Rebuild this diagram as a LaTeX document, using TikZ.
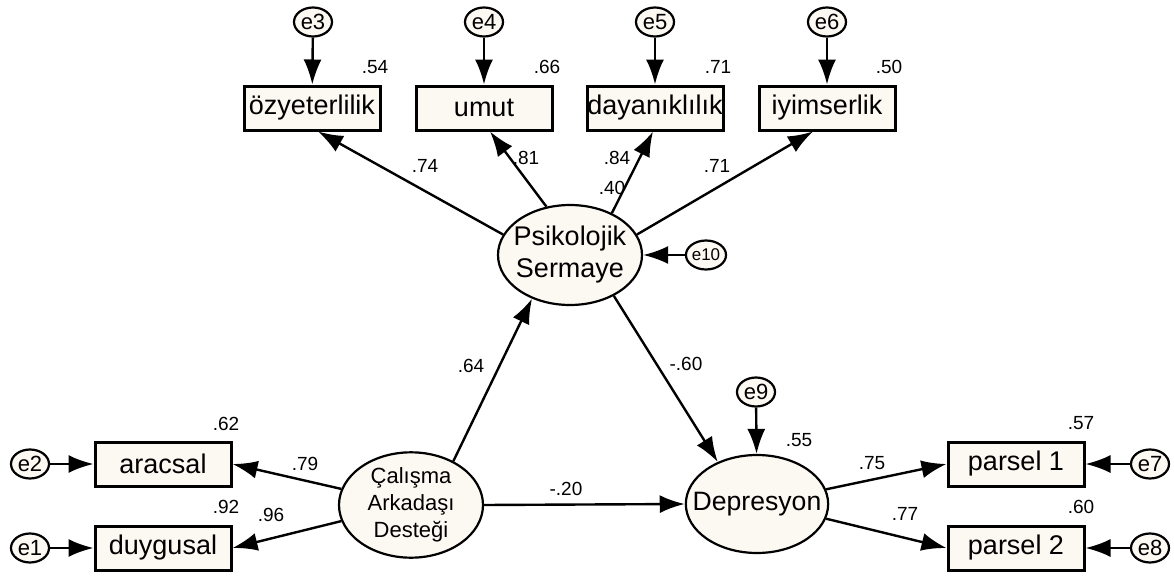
\documentclass[tikz,border=0pt]{standalone}
\usepackage{fontspec}
\setmainfont{Liberation Sans}
\usetikzlibrary{positioning,arrows.meta,shapes.geometric}
\definecolor{cream}{HTML}{FCF8F2}
\tikzset{obs/.style={draw,line width=1.5pt,fill=cream,
    minimum width=68pt,minimum height=22pt,inner sep=0pt,
    font=\fontsize{13.5}{16}\selectfont},
  lat/.style={draw,ellipse,line width=1.1pt,fill=cream,
    minimum width=72pt,minimum height=50pt,inner xsep=-7pt,inner ysep=0pt,align=center},
  err/.style={draw,ellipse,line width=1.1pt,fill=cream,
    minimum width=19pt,minimum height=14.5pt,inner sep=0pt,
    font=\fontsize{11}{12}\selectfont},
  coef/.style={inner sep=0pt,font=\fontsize{9.5}{11}\selectfont},
  link/.style={->,line width=1.2pt}
}

\begin{document}
\begin{tikzpicture}[x=0.5pt,y=-0.5pt,>={Latex[length=12.5pt,width=9pt]}]
	\useasboundingbox (0,0) rectangle (1174,578);
	% latent variables
	\node[lat,font=\fontsize{13.5}{16}\selectfont] (psy) at (570,255) {Psikolojik\\Sermaye};
	\node[lat,minimum height=52pt,font=\fontsize{11}{13.5}\selectfont] (cal) at (411,505) {Çalışma\\Arkadaşı\\Desteği};
	\node[lat,minimum width=71pt,minimum height=49pt,font=\fontsize{13.3}{16}\selectfont] (dep) at (757,504) {Depresyon};
	% observed variables
	\node[obs] (ozy) at (312,108) {özyeterlilik};
	\node[obs] (umut) at (484,108) {umut};
	\node[obs] (day) at (655,108) {dayanıklılık};
	\node[obs] (iyi) at (827,108) {iyimserlik};
	\node[obs] (ara) at (163,464) {aracsal};
	\node[obs] (duy) at (163,548) {duygusal};
	\node[obs] (p1) at (1016,464) {parsel 1};
	\node[obs] (p2) at (1016,548) {parsel 2};
	% errors
	\node[err] (e3) at (313,22) {e3};
	\node[err] (e4) at (484,22) {e4};
	\node[err] (e5) at (655,22) {e5};
	\node[err] (e6) at (827,22) {e6};
	\node[err,font=\fontsize{8.5}{10}\selectfont] (e10) at (706,255) {e10};
	\node[err] (e9) at (756,392) {e9};
	\node[err] (e2) at (30,464) {e2};
	\node[err] (e1) at (30,548) {e1};
	\node[err] (e7) at (1150,464) {e7};
	\node[err] (e8) at (1150,548) {e8};
	% paths
	\draw[link] (e3) -- (ozy);
	\draw[link] (e4) -- (umut);
	\draw[link] (e5) -- (day);
	\draw[link] (e6) -- (iyi);
	\draw[link] (e10) -- (psy);
	\draw[link] (e9) -- (dep);
	\draw[link] (e2) -- (ara);
	\draw[link] (e1) -- (duy);
	\draw[link] (e7) -- (p1);
	\draw[link] (e8) -- (p2);
	\draw[link] (psy.163) -- ([xshift=3pt]ozy.south);
	\draw[link] (psy.116) -- ([xshift=3pt]umut.south);
	\draw[link] (psy.45) -- ([xshift=-1pt]day.south);
	\draw[link] (psy.17) -- ([xshift=-7pt]iyi.south);
	\draw[link] (cal.46) -- (psy.229);
	\draw[link] (psy.317) -- (dep.133);
	\draw[link] (cal.east) -- (dep.west);
	\draw[link] (cal.167) -- (ara.east);
	\draw[link] (cal.193) -- (duy.east);
	\draw[link] (dep.12) -- (p1.west);
	\draw[link] (dep.348) -- (p2.west);
	% estimates
	\node[coef] (r54) at (375,67) {.54};
	\node[coef] (r66) at (547,67) {.66};
	\node[coef] (r71) at (718,67) {.71};
	\node[coef] (r50) at (889,67) {.50};
	\node[coef] (w74) at (425,166) {.74};
	\node[coef] (w81) at (526,158) {.81};
	\node[coef] (w84) at (617,158) {.84};
	\node[coef] (r40) at (612,188) {.40};
	\node[coef] (w71) at (717,166) {.71};
	\node[coef] (w64) at (471,366) {.64};
	\node[coef] (w60) at (686,364) {-.60};
	\node[coef] (w20) at (566,489) {-.20};
	\node[coef] (r62) at (226,424) {.62};
	\node[coef] (r92) at (226,507) {.92};
	\node[coef] (w79) at (305,464) {.79};
	\node[coef] (w96) at (271,515) {.96};
	\node[coef] (r55) at (799,440) {.55};
	\node[coef] (w75) at (872,463) {.75};
	\node[coef] (w77) at (905,514) {.77};
	\node[coef] (r57) at (1081,423) {.57};
	\node[coef] (r60) at (1081,507) {.60};
\end{tikzpicture}
\end{document}
